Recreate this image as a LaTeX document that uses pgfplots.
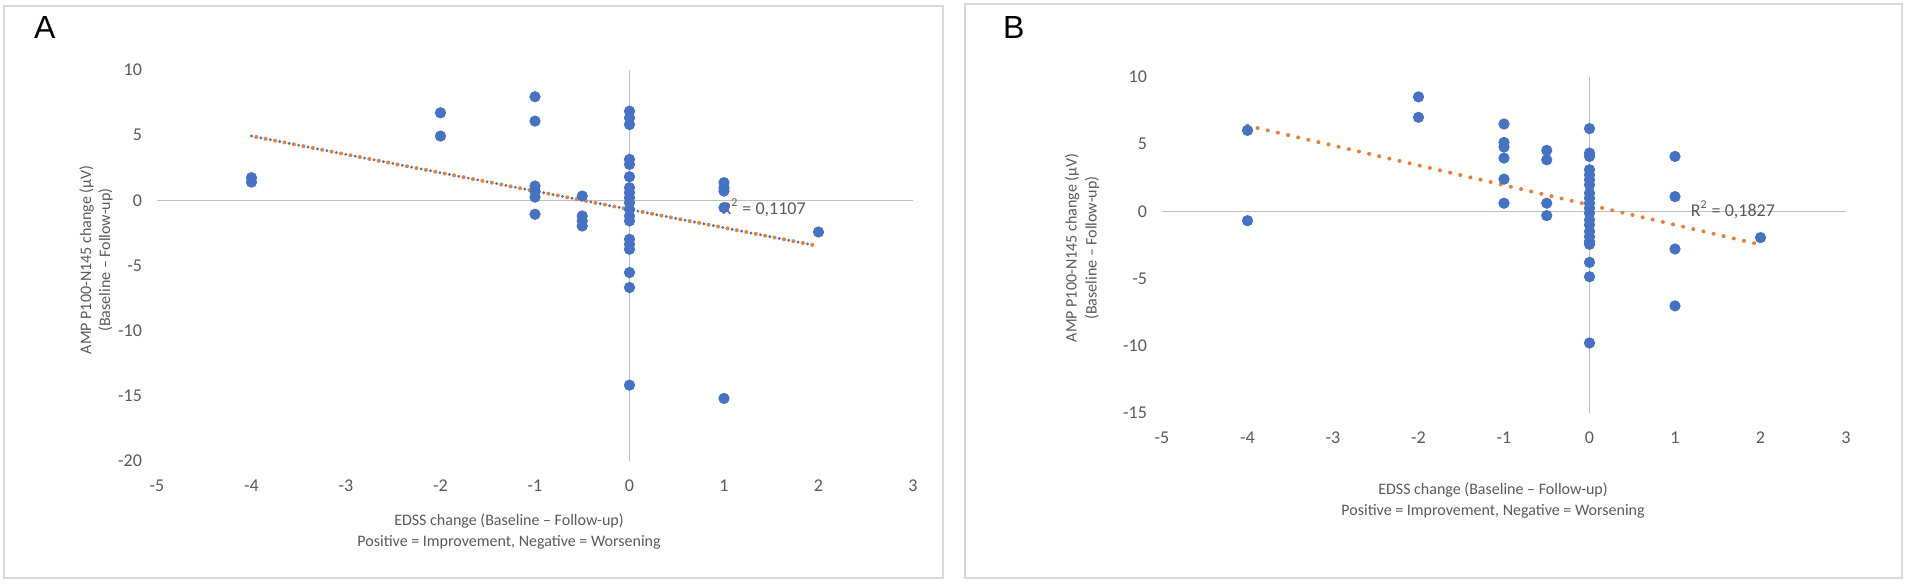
\documentclass[border=0pt]{standalone}
\usepackage{pgfplots}
\usepackage{pgfplotstable}
\pgfplotsset{compat=1.18}
\usepackage{fontspec}
\setmainfont{Carlito}
\newfontfamily\arialfont{Liberation Sans}
\definecolor{xblue}{HTML}{4472C4}
\definecolor{xorange}{HTML}{ED7D31}
\definecolor{xtext}{HTML}{595959}
\definecolor{xaxis}{HTML}{BFBFBF}
\definecolor{xframe}{HTML}{D9D9D9}

\pgfplotstableread{
x y
-4 1.74
-4 1.40
-2 6.72
-2 4.93
-1 7.95
-1 6.08
-1 1.10
-1 0.71
-1 0.25
-1 -1.07
-0.5 0.33
-0.5 -1.2
-0.5 -1.58
-0.5 -1.97
0 6.84
0 6.33
0 5.82
0 3.14
0 2.76
0 1.81
0 0.97
0 0.59
0 0.20
0 -0.18
0 -0.69
0 -1.2
0 -1.58
0 -2.99
0 -3.37
0 -3.75
0 -5.54
0 -6.69
0 -14.18
1 1.36
1 0.97
1 0.71
1 -0.56
1 -15.2
2 -2.43
}\dataA

\pgfplotstableread{
x y
-4 6.03
-4 -0.69
-2 8.52
-2 7.0
-1 6.5
-1 5.13
-1 4.79
-1 3.97
-1 2.4
-1 0.61
-0.5 4.54
-0.5 3.84
-0.5 0.61
-0.5 -0.31
0 6.16
0 4.34
0 4.09
0 3.1
0 2.72
0 2.35
0 1.98
0 1.36
0 0.99
0 0.61
0 0.24
0 -0.13
0 -0.63
0 -1.0
0 -1.5
0 -1.88
0 -2.25
0 -2.45
0 -3.79
0 -4.86
0 -9.79
1 4.09
1 1.1
1 -2.8
1 -7.03
2 -1.95
}\dataB

\pgfplotsset{
  xl/.style={
    scale only axis, xmin=-5, xmax=3,
    axis line style={draw=none}, tick style={draw=none},
    xtick={-5,...,3}, xticklabels={-5,-4,-3,-2,-1,0,1,2,3},
    ticklabel style={font=\fontsize{9}{10}\selectfont, text=xtext},
    xticklabel style={yshift=-6pt},
    yticklabel style={xshift=-4pt},
    clip=false, anchor=south west,
  },
  pts/.style={only marks, mark=*, mark size=2.6pt, color=xblue, mark options={solid, draw=xblue, fill=xblue}},
  ax/.style={xaxis, line width=0.75pt, no marks},
}

\begin{document}
\begin{tikzpicture}
\path[use as bounding box] (0,0) rectangle (953.5pt,-292.5pt);
\draw[xframe, line width=0.8pt] (2pt,-3pt) rectangle (471.5pt,-289pt);
\draw[xframe, line width=0.8pt] (482.5pt,-2pt) rectangle (951pt,-289pt);

\node[anchor=base west, font=\arialfont\fontsize{16}{18}\selectfont] at (13.5pt,-19pt) {A};
\node[anchor=base west, font=\arialfont\fontsize{16}{18}\selectfont] at (498pt,-19pt) {B};

% Panel A
\begin{axis}[xl, at={(78.5pt,-230.5pt)}, width=378pt, height=195.5pt,
  ymin=-20, ymax=10, ytick={-20,-15,...,10}, yticklabels={-20,-15,-10,-5,0,5,10}]
\addplot[ax] coordinates {(-5,0) (3,0)};
\addplot[ax] coordinates {(0,10) (0,-20)};
\addplot[pts] table[x=x,y=y] {\dataA};
\addplot[xblue, line width=1.6pt, dash pattern=on 0pt off 4.8pt, line cap=round, no marks] coordinates {(-4,4.93) (1.96,-3.45)};
\addplot[xorange, line width=2pt, dash pattern=on 0pt off 4.8pt, dash phase=2.4pt, line cap=round, no marks] coordinates {(-4,4.93) (1.96,-3.45)};
\node[anchor=west, font=\fontsize{9}{10}\selectfont, text=xtext, inner sep=0pt] at (axis cs:0.97,-0.55) {R\textsuperscript{2} = 0,1107};
\end{axis}
\node[font=\fontsize{8}{9.5}\selectfont, text=xtext, rotate=90, align=center] at (48pt,-130pt) {AMP P100-N145 change (µV)\\(Baseline – Follow-up)};
\node[font=\fontsize{8}{10.5}\selectfont, text=xtext, align=center] at (254.5pt,-266pt) {EDSS change (Baseline – Follow-up)\\Positive = Improvement, Negative = Worsening};

% Panel B
\begin{axis}[xl, at={(581pt,-206.5pt)}, width=342pt, height=168pt,
  ymin=-15, ymax=10, ytick={-15,-10,...,10}, yticklabels={-15,-10,-5,0,5,10}]
\addplot[ax] coordinates {(-5,0) (3,0)};
\addplot[ax] coordinates {(0,10) (0,-15)};
\addplot[pts] table[x=x,y=y] {\dataB};
\addplot[xorange, line width=2pt, dash pattern=on 0pt off 5.2pt, line cap=round, no marks] coordinates {(-4,6.38) (1.95,-2.4)};
\node[anchor=west, font=\fontsize{9}{10}\selectfont, text=xtext, inner sep=0pt] at (axis cs:1.18,0.1) {R\textsuperscript{2} = 0,1827};
\end{axis}
\node[font=\fontsize{8}{10}\selectfont, text=xtext, rotate=90, align=center] at (541pt,-124pt) {AMP P100-N145 change (µV)\\(Baseline – Follow-up)};
\node[font=\fontsize{8}{10.5}\selectfont, text=xtext, align=center] at (746.5pt,-250.5pt) {EDSS change (Baseline – Follow-up)\\Positive = Improvement, Negative = Worsening};
\end{tikzpicture}
\end{document}
